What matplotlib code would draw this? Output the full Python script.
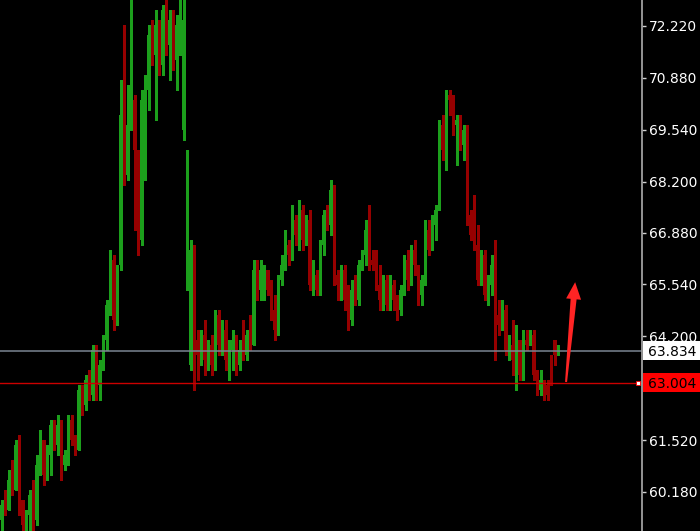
import numpy as np
import matplotlib.pyplot as plt
from matplotlib.patches import Polygon, Rectangle
from matplotlib.transforms import IdentityTransform

# OHLC, one bar per entry
opens = [
    59.45, 59.84, 59.71, 60.49, 60.23, 61.39, 59.97, 59.32, 59.58, 60.10,
    59.45, 60.87, 61.52, 60.62, 61.13, 61.91, 61.39, 61.91, 60.87, 61.13,
    62.04, 61.52, 61.26, 62.81, 62.43, 63.07, 62.68, 63.85, 62.94, 63.46,
    64.11, 65.01, 66.17, 64.62, 66.04, 69.92, 68.37, 69.66, 70.31, 69.02,
    66.69, 70.31, 70.57, 71.99, 71.47, 72.24, 71.21, 72.63, 71.73, 72.37,
    71.34, 72.24, 69.53, 65.66, 63.46, 66.43, 64.11, 63.72, 64.23, 63.59,
    63.98, 63.46, 64.75, 63.98, 64.36, 63.59, 63.85, 64.11, 63.46, 63.85,
    63.72, 64.23, 63.98, 65.91, 65.40, 65.27, 65.91, 65.40, 64.88, 64.36,
    65.66, 66.04, 66.56, 66.30, 67.21, 66.82, 67.46, 66.69, 67.21, 65.53,
    65.78, 65.40, 66.56, 67.33, 67.08, 67.98, 65.78, 65.53, 65.91, 65.14,
    64.62, 65.40, 65.14, 66.04, 66.30, 66.95, 66.17, 66.04, 65.53, 65.14,
    65.66, 65.01, 65.53, 65.14, 64.88, 65.40, 66.17, 65.66, 66.43, 66.04,
    65.27, 65.66, 66.95, 66.43, 67.08, 67.46, 69.66, 69.02, 70.44, 70.31,
    69.66, 69.79, 69.14, 69.53, 67.33, 66.82, 66.56, 65.66, 66.30, 65.27,
    65.53, 66.04, 64.75, 64.49, 64.88, 63.85, 63.98, 63.59, 64.11, 63.20,
    64.11, 63.98, 64.23, 63.20, 62.81, 63.07, 62.94, 63.72, 64.11, 63.85,
]
highs = [
    59.97, 60.23, 60.75, 61.00, 61.52, 61.65, 59.97, 59.71, 60.23, 60.49,
    61.13, 61.78, 61.52, 61.39, 62.04, 62.04, 62.17, 62.04, 61.26, 62.17,
    62.17, 61.65, 62.94, 62.94, 63.20, 63.33, 63.98, 63.98, 63.59, 64.23,
    65.14, 66.43, 66.30, 66.04, 70.82, 72.24, 70.69, 72.95, 70.44, 69.02,
    70.57, 70.95, 72.24, 72.37, 72.63, 72.37, 72.76, 72.95, 72.63, 72.63,
    72.50, 72.95, 72.95, 69.02, 66.69, 66.56, 64.36, 64.36, 64.62, 64.11,
    64.23, 64.88, 64.88, 64.62, 64.62, 64.11, 64.36, 64.23, 64.11, 64.62,
    64.36, 64.75, 66.17, 66.17, 66.17, 66.04, 65.91, 65.66, 65.27, 65.78,
    66.30, 66.95, 66.69, 67.59, 67.33, 67.72, 67.59, 67.33, 67.46, 66.17,
    65.91, 66.69, 67.46, 67.59, 68.24, 68.11, 65.91, 66.04, 66.04, 65.53,
    65.66, 65.78, 66.17, 66.43, 67.21, 67.59, 66.43, 66.43, 66.04, 65.78,
    65.78, 65.78, 65.66, 65.27, 65.53, 66.30, 66.43, 66.56, 66.69, 66.04,
    65.78, 67.21, 67.21, 67.33, 67.59, 69.79, 69.92, 70.57, 70.57, 70.44,
    69.92, 69.92, 69.66, 69.66, 67.46, 67.85, 67.08, 66.43, 66.43, 65.78,
    66.30, 66.69, 65.14, 65.14, 65.01, 64.23, 64.62, 64.49, 64.11, 64.36,
    64.36, 64.36, 64.36, 63.33, 63.33, 63.07, 63.07, 63.72, 64.11, 63.98,
]
lows = [
    59.07, 59.58, 59.71, 60.10, 60.23, 59.58, 58.94, 58.94, 58.94, 59.07,
    59.32, 60.62, 60.36, 60.49, 60.62, 61.26, 61.13, 60.49, 60.75, 60.87,
    61.39, 61.13, 61.26, 62.17, 62.30, 62.55, 62.55, 62.55, 62.55, 63.33,
    63.85, 64.75, 64.36, 64.49, 65.91, 68.11, 68.24, 69.53, 66.95, 66.30,
    66.56, 68.24, 70.05, 71.21, 69.79, 70.95, 70.95, 71.47, 70.82, 71.08,
    70.57, 71.47, 69.27, 65.40, 63.33, 62.81, 63.07, 63.46, 63.20, 63.33,
    63.20, 63.33, 63.72, 63.72, 63.33, 63.07, 63.33, 63.20, 63.33, 63.59,
    63.59, 63.85, 63.98, 65.14, 65.14, 65.14, 65.27, 64.62, 64.11, 64.23,
    65.53, 65.91, 66.04, 66.17, 66.56, 66.43, 66.43, 66.56, 65.40, 65.27,
    65.27, 65.27, 66.30, 66.95, 66.82, 65.53, 65.14, 65.14, 64.88, 64.36,
    64.49, 65.01, 65.01, 65.91, 66.04, 65.91, 65.91, 65.40, 64.88, 64.88,
    64.88, 64.88, 64.88, 64.62, 64.75, 65.27, 65.40, 65.53, 65.78, 65.01,
    65.01, 65.53, 66.30, 66.43, 66.69, 67.46, 68.76, 68.50, 69.92, 69.40,
    68.63, 69.02, 68.76, 67.08, 66.69, 66.43, 65.53, 65.53, 65.14, 65.01,
    65.27, 63.59, 64.23, 64.36, 63.72, 63.59, 63.20, 62.81, 63.07, 63.07,
    63.85, 63.98, 63.07, 62.68, 62.68, 62.55, 62.55, 62.94, 63.46, 63.72,
]
closes = [
    59.84, 59.71, 60.49, 60.23, 61.39, 59.97, 59.32, 59.58, 60.10, 59.45,
    60.87, 61.52, 60.62, 61.13, 61.91, 61.39, 61.91, 60.87, 61.13, 62.04,
    61.52, 61.26, 62.81, 62.43, 63.07, 62.68, 63.85, 62.94, 63.46, 64.11,
    65.01, 66.17, 64.62, 65.91, 69.92, 68.37, 69.66, 70.31, 69.02, 66.69,
    70.31, 70.57, 71.99, 71.47, 72.24, 71.21, 72.63, 71.73, 72.37, 71.34,
    72.24, 72.63, 72.37, 68.76, 66.43, 64.11, 63.72, 64.23, 63.59, 63.98,
    63.46, 64.75, 63.98, 64.36, 63.59, 63.85, 64.11, 63.46, 63.85, 63.72,
    64.23, 63.98, 65.91, 65.40, 65.91, 65.91, 65.40, 64.88, 64.36, 65.66,
    66.04, 66.56, 66.30, 67.21, 66.82, 67.46, 66.69, 67.21, 65.53, 65.78,
    65.40, 66.56, 67.33, 67.08, 67.98, 65.78, 65.53, 65.91, 65.14, 64.62,
    65.40, 65.14, 66.04, 66.30, 66.95, 66.17, 66.04, 65.53, 65.14, 65.66,
    65.01, 65.53, 65.14, 64.88, 65.40, 66.17, 65.66, 66.43, 66.04, 65.27,
    65.66, 66.95, 66.43, 67.08, 67.46, 69.66, 69.02, 70.44, 70.31, 69.66,
    69.79, 69.14, 69.53, 67.33, 66.82, 66.56, 65.66, 66.30, 65.27, 65.53,
    66.04, 64.75, 64.49, 64.88, 63.85, 63.98, 63.59, 64.11, 63.20, 64.11,
    63.98, 64.23, 63.20, 62.81, 63.07, 62.68, 62.68, 63.07, 63.72, 63.98,
]

level_grey = 63.834
level_red = 63.004
tick_values = [72.22, 70.88, 69.54, 68.20, 66.88, 65.54, 64.20, 61.52, 60.18]
tick_labels = ["72.220", "70.880", "69.540", "68.200", "66.880",
               "65.540", "64.200", "61.520", "60.180"]

# hand-drawn arrow, start and tip as (bar index, price)
arrow_start = (161.3, 63.02)
arrow_tip = (163.9, 65.60)

UP = "#1c9f1c"
DOWN = "#960000"

fig = plt.figure(figsize=(7, 5.31), dpi=100, facecolor="black")
ax = fig.add_axes([0, 0, 642 / 700, 1])
ax.set_facecolor("black")

o = np.array(opens)
h = np.array(highs)
l = np.array(lows)
c = np.array(closes)
idx = np.arange(len(c))
colors = np.where(c >= o, UP, DOWN)

ax.vlines(idx, l, h, colors=colors, linewidth=0.75, antialiased=False)
ax.bar(idx, np.abs(c - o), bottom=np.minimum(o, c), width=0.6,
       color=colors, linewidth=0, antialiased=False)

ax.set_xlim(-0.43, 183.0)
ax.set_ylim(59.17, 72.891)

ax.axhline(level_grey, color="#7a8591", linewidth=1.1)
ax.axhline(level_red, color="#cc0000", linewidth=1.0)
ax.plot(181.9, level_red, marker="s", markersize=3, mfc="white", mec="#ff0000",
        mew=0.6, clip_on=False)

for side in ["left", "top", "bottom"]:
    ax.spines[side].set_visible(False)
ax.spines["right"].set_color("#a0a0a0")
ax.spines["right"].set_linewidth(1.3)
ax.set_xticks([])
ax.yaxis.tick_right()
ax.set_yticks(tick_values, tick_labels)
ax.tick_params(axis="y", colors="#d0d0d0", labelcolor="white", length=3,
               width=1, pad=2, labelsize=10)

# price boxes on the scale
for level, face in [(level_grey, "white"), (level_red, "#ff0000")]:
    y = ax.transData.transform((0, level))[1]
    fig.add_artist(Rectangle((643 / 700, (y - 9.5) / 531), 57 / 700, 19 / 531,
                             transform=fig.transFigure, facecolor=face,
                             edgecolor="none", zorder=5))
    fig.text(648 / 700, y / 531, f"{level:.3f}", color="black", fontsize=10,
             ha="left", va="center_baseline", zorder=6)

# tapered red arrow, built in pixel space
p0 = ax.transData.transform(arrow_start)
p1 = ax.transData.transform(arrow_tip)
d = (p1 - p0) / np.hypot(*(p1 - p0))
n = np.array([-d[1], d[0]])
neck = p1 - d * 17
pts = [p0 - n * 1.0, neck - n * 3.0, neck - n * 7.5, p1,
       neck + n * 7.5, neck + n * 3.0, p0 + n * 1.0]
fig.add_artist(Polygon(pts, closed=True, facecolor="#ff2424", edgecolor="none",
                       transform=IdentityTransform(), zorder=5))

fig.savefig("out.png", dpi=100, facecolor="black")
